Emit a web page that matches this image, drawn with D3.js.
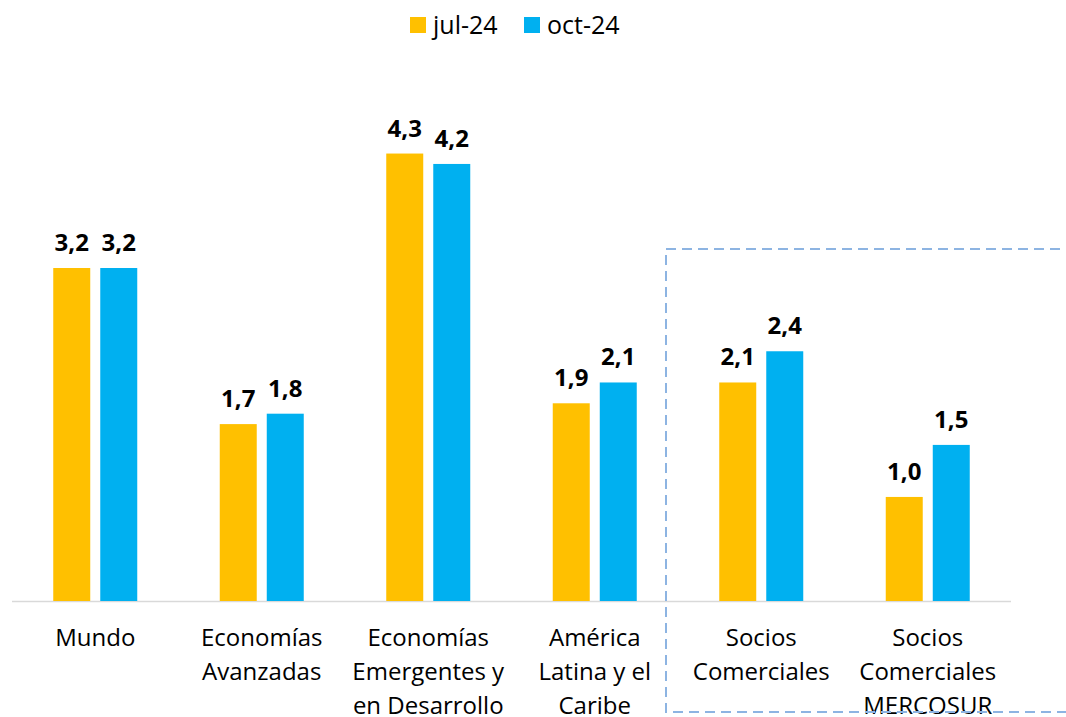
<!DOCTYPE html>
<html>
<head>
<meta charset="utf-8">
<script src="https://cdn.jsdelivr.net/npm/d3@7"></script>
<style>
  body { margin: 0; background: #fff; }
  svg { font-family: "Open Sans", sans-serif; }
</style>
</head>
<body>
<svg id="chart" width="1066" height="717"></svg>
<script>
// data
var categories = [
  ['Mundo'],
  ['Economías', 'Avanzadas'],
  ['Economías', 'Emergentes y', 'en Desarrollo'],
  ['América', 'Latina y el', 'Caribe'],
  ['Socios', 'Comerciales'],
  ['Socios', 'Comerciales', 'MERCOSUR']
];
var seriesNames = ['jul-24', 'oct-24'];
var jul24 = [3.2, 1.7, 4.3, 1.9, 2.1, 1.0];
var oct24 = [3.2, 1.8, 4.2, 2.1, 2.4, 1.5];
var colors = ['#FFC000', '#00B0F0'];

var svg = d3.select('#chart');
var width = 1066, height = 717;
var left = 12, right = 1011, base = 601;

var keys = categories.map(function (c, i) { return i; });
var x = d3.scaleBand().domain(keys).range([left, right]);
var x1 = d3.scaleBand().domain([0, 1]).range([0, 84]).paddingInner(0.213);
var y = d3.scaleLinear().domain([0, 5]).range([base, base - 520.3]);

var rows = categories.map(function (c, i) {
  return { i: i, values: [jul24[i], oct24[i]] };
});

// axis baseline
svg.append('line')
  .attr('x1', left).attr('x2', right)
  .attr('y1', base + 0.5).attr('y2', base + 0.5)
  .attr('stroke', '#d9d9d9').attr('stroke-width', 1.5);

var groups = svg.selectAll('g.grp')
  .data(rows)
  .enter()
  .append('g')
  .attr('class', 'grp')
  .attr('transform', function (d) { return 'translate(' + (x(d.i) + x.bandwidth() / 2 - 42) + ',0)'; });

groups.selectAll('rect')
  .data(function (d) { return d.values; })
  .enter()
  .append('rect')
  .attr('x', function (d, j) { return x1(j); })
  .attr('width', x1.bandwidth())
  .attr('y', function (d) { return y(d); })
  .attr('height', function (d) { return base - y(d); })
  .attr('fill', function (d, j) { return colors[j]; });

groups.selectAll('text.val')
  .data(function (d) { return d.values; })
  .enter()
  .append('text')
  .attr('class', 'val')
  .attr('x', function (d, j) { return x1(j) + x1.bandwidth() / 2; })
  .attr('y', function (d) { return y(d) - 17; })
  .attr('text-anchor', 'middle')
  .attr('font-size', 24)
  .attr('font-weight', 'bold')
  .attr('fill', '#000')
  .text(function (d) { return d3.format('.1f')(d).replace('.', ','); });

// category labels
var lab = svg.selectAll('text.cat')
  .data(rows)
  .enter()
  .append('text')
  .attr('class', 'cat')
  .attr('x', function (d) { return x(d.i) + x.bandwidth() / 2; })
  .attr('y', 646)
  .attr('text-anchor', 'middle')
  .attr('font-size', 24)
  .attr('fill', '#000');

lab.selectAll('tspan')
  .data(function (d) { return categories[d.i]; })
  .enter()
  .append('tspan')
  .attr('x', function () { return d3.select(this.parentNode).attr('x'); })
  .attr('dy', function (d, k) { return k === 0 ? 0 : 34; })
  .text(function (d) { return d; });

// dashed highlight box
var bx = x(4) - 12;
svg.append('path')
  .attr('d', 'M' + (width + 10) + ',249 H' + bx + ' V712 H' + (width + 10))
  .attr('fill', 'none')
  .attr('stroke', '#8DB4E2')
  .attr('stroke-width', 2)
  .attr('stroke-dasharray', '10,6');

// legend
var legend = svg.append('g');
var lx = [410, 524];
seriesNames.forEach(function (name, j) {
  legend.append('rect')
    .attr('x', lx[j]).attr('y', 17)
    .attr('width', 16).attr('height', 16)
    .attr('fill', colors[j]);
  legend.append('text')
    .attr('x', lx[j] + 23).attr('y', 34)
    .attr('font-size', 25)
    .attr('fill', '#000')
    .text(name);
});
</script>
</body>
</html>
